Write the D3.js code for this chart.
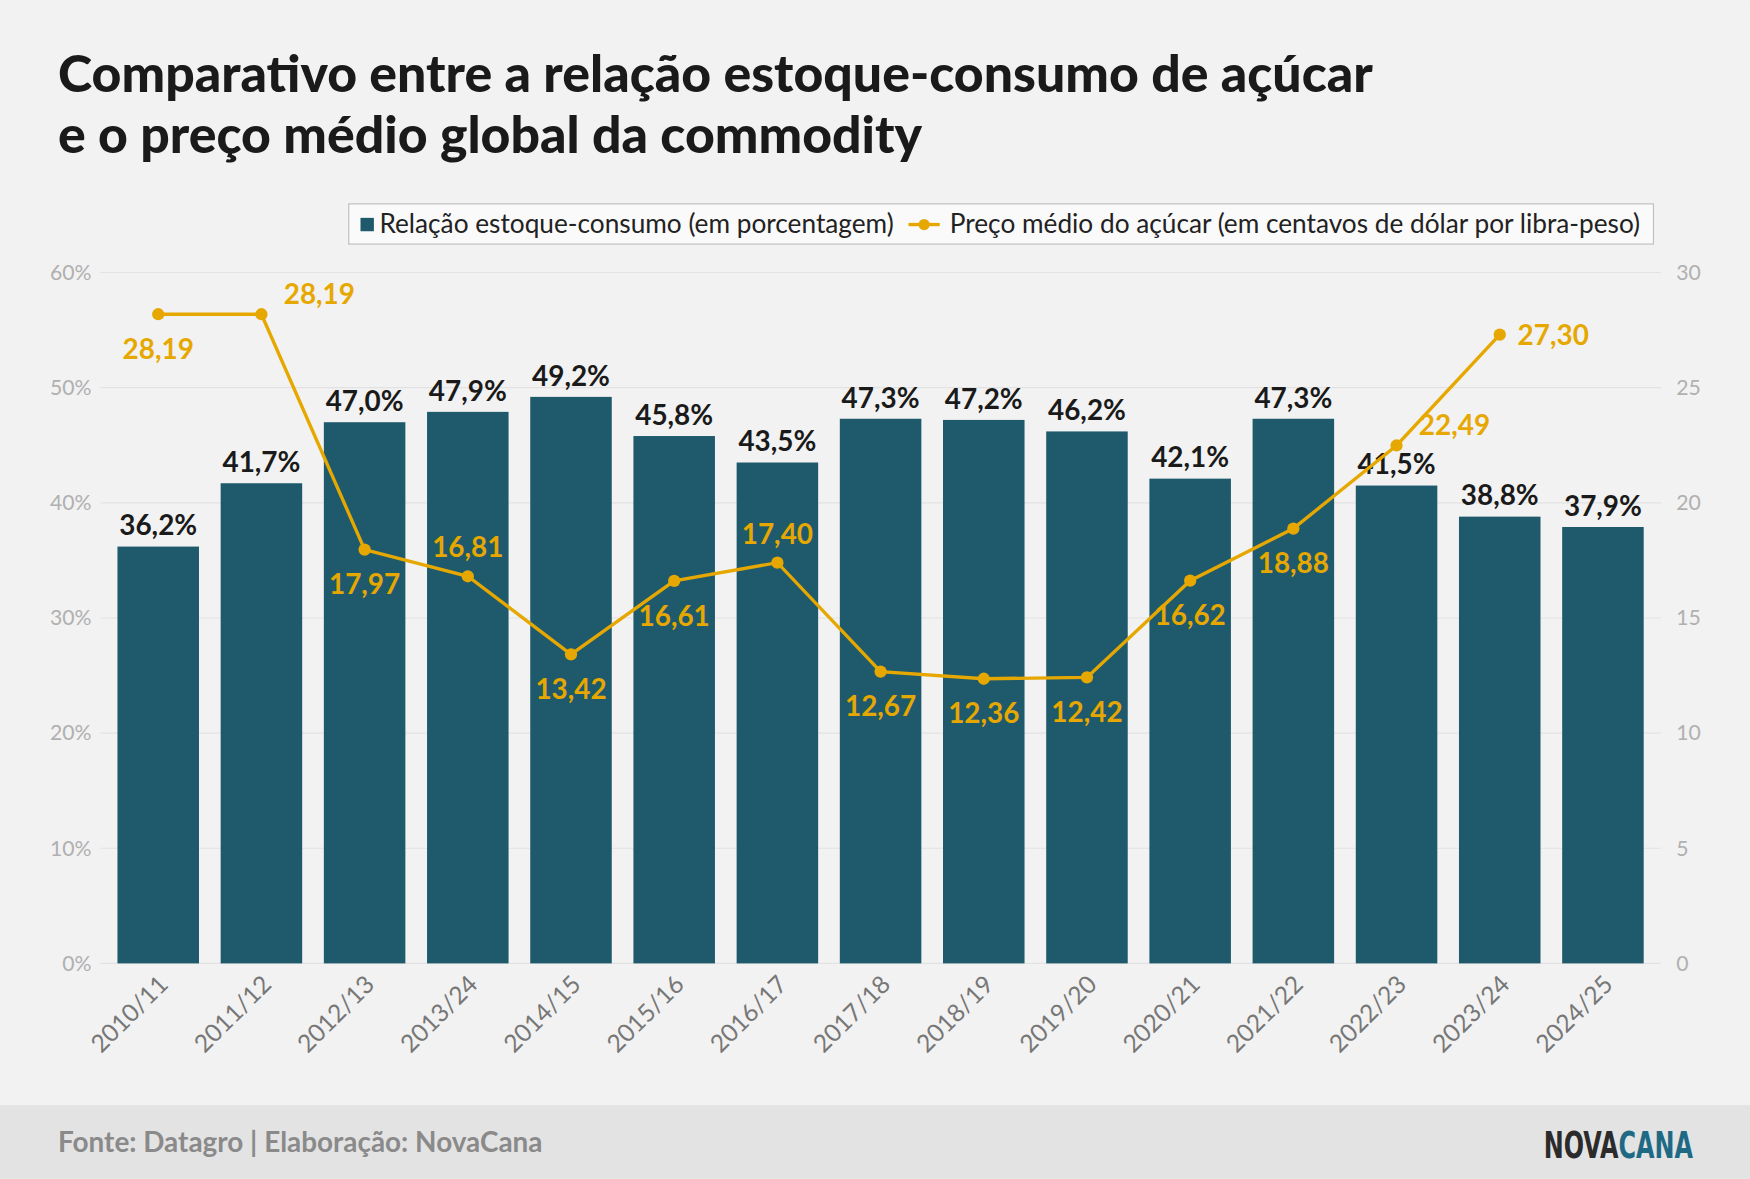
<!DOCTYPE html>
<html><head><meta charset="utf-8">
<script src="https://cdn.jsdelivr.net/npm/d3@7"></script>
<style>body{margin:0;background:#f2f2f2}svg{display:block;font-family:Lato,sans-serif}</style>
</head><body><svg id="c" width="1750" height="1179" viewBox="0 0 1568 1056"></svg>
<script>
const seasons = ["2010/11","2011/12","2012/13","2013/24","2014/15","2015/16","2016/17","2017/18","2018/19","2019/20","2020/21","2021/22","2022/23","2023/24","2024/25"];
const ratio = [36.2,41.7,47.0,47.9,49.2,45.8,43.5,47.3,47.2,46.2,42.1,47.3,41.5,38.8,37.9];
const price = [28.19,28.19,17.97,16.81,13.42,16.61,17.40,12.67,12.36,12.42,16.62,18.88,22.49,27.30];
const pctTicks = [0,10,20,30,40,50,60];
const priceTicks = [0,5,10,15,20,25,30];
// where each price label sits relative to its point
const priceLabelPos = ["below","aboveRight","below","above","below","below","above","below","below","below","below","below","aboveRight","right"];

const svg = d3.select("#c");
const teal = "#1e5a6c", gold = "#e6a800";
const x = d3.scaleBand().domain(seasons).range([96, 1482]).paddingInner(0.21).paddingOuter(0.1);
const y = d3.scaleLinear().domain([0, 60]).range([863, 244]);
const y2 = d3.scaleLinear().domain([0, 30]).range([863, 244]);

svg.append("rect").attr("width", 1568).attr("height", 1056).attr("fill", "#f2f2f2");
svg.append("rect").attr("y", 990).attr("width", 1568).attr("height", 66).attr("fill", "#e3e3e3");

svg.append("text").attr("x", 52).attr("y", 82).attr("font-size", 46.4).attr("font-weight", 900).attr("fill", "#1a1a1a")
  .text("Comparativo entre a relação estoque-consumo de açúcar");
svg.append("text").attr("x", 52).attr("y", 137).attr("font-size", 46.4).attr("font-weight", 900).attr("fill", "#1a1a1a")
  .text("e o preço médio global da commodity");

// grid
svg.append("g").selectAll("line").data(pctTicks).join("line")
  .attr("x1", 90).attr("x2", 1488).attr("y1", d => y(d)).attr("y2", d => y(d))
  .attr("stroke", "#e2e2e2");

svg.append("g").attr("transform", "translate(90,0)")
  .call(d3.axisLeft(y).tickValues(pctTicks).tickSize(0).tickPadding(8).tickFormat(d => d + "%"))
  .call(g => g.select(".domain").remove())
  .selectAll("text").attr("font-size", 19).attr("fill", "#b0b0b0").attr("font-family", "Lato");
svg.append("g").attr("transform", "translate(1494,0)")
  .call(d3.axisRight(y2).tickValues(priceTicks).tickSize(0).tickPadding(8))
  .call(g => g.select(".domain").remove())
  .selectAll("text").attr("font-size", 19).attr("fill", "#b0b0b0").attr("font-family", "Lato");

svg.append("g").attr("transform", "translate(0,863)")
  .call(d3.axisBottom(x).tickSize(0).tickPadding(10))
  .call(g => g.select(".domain").remove())
  .selectAll("text").attr("font-size", 22).attr("fill", "#777").attr("font-family", "Lato")
  .attr("text-anchor", "end").attr("transform", "translate(-8,2) rotate(-45)");

svg.append("g").selectAll("rect").data(ratio).join("rect")
  .attr("x", (d, i) => x(seasons[i])).attr("width", x.bandwidth())
  .attr("y", d => y(d)).attr("height", d => y(0) - y(d)).attr("fill", teal);

svg.append("g").selectAll("text").data(ratio).join("text")
  .attr("x", (d, i) => x(seasons[i]) + x.bandwidth() / 2).attr("y", d => y(d) - 10)
  .attr("text-anchor", "middle").attr("font-size", 25).attr("font-weight", 700).attr("fill", "#1a1a1a")
  .text(d => d.toFixed(1).replace(".", ",") + "%");

const px = (d, i) => x(seasons[i]) + x.bandwidth() / 2;
svg.append("path").datum(price)
  .attr("d", d3.line().x(px).y(d => y2(d)))
  .attr("fill", "none").attr("stroke", gold).attr("stroke-width", 3);
svg.append("g").selectAll("circle").data(price).join("circle")
  .attr("cx", px).attr("cy", d => y2(d)).attr("r", 5.5).attr("fill", gold);

const off = {below: [0, 40], above: [0, -17], aboveRight: [20, -9], right: [16, 9]};
svg.append("g").selectAll("text").data(price).join("text")
  .attr("x", (d, i) => px(d, i) + off[priceLabelPos[i]][0])
  .attr("y", (d, i) => y2(d) + off[priceLabelPos[i]][1])
  .attr("text-anchor", (d, i) => off[priceLabelPos[i]][0] ? "start" : "middle")
  .attr("font-size", 25).attr("font-weight", 700).attr("fill", gold)
  .text(d => d.toFixed(2).replace(".", ","));

// legend
const lg = svg.append("g");
lg.append("rect").attr("x", 312.5).attr("y", 182.5).attr("width", 1169).attr("height", 36)
  .attr("fill", "#fafafa").attr("stroke", "#bdbdbd");
lg.append("rect").attr("x", 323).attr("y", 195).attr("width", 12).attr("height", 12).attr("fill", teal);
lg.append("text").attr("x", 340).attr("y", 209).attr("font-size", 23.5).attr("fill", "#222")
  .text("Relação estoque-consumo (em porcentagem)");
lg.append("line").attr("x1", 814).attr("x2", 842).attr("y1", 201).attr("y2", 201).attr("stroke", gold).attr("stroke-width", 3);
lg.append("circle").attr("cx", 828).attr("cy", 201).attr("r", 5).attr("fill", gold);
lg.append("text").attr("x", 851).attr("y", 209).attr("font-size", 23.5).attr("fill", "#222")
  .text("Preço médio do açúcar (em centavos de dólar por libra-peso)");

svg.append("text").attr("x", 52).attr("y", 1032).attr("font-size", 25).attr("font-weight", 700).attr("fill", "#8a8a8a")
  .text("Fonte: Datagro | Elaboração: NovaCana");
const logo = svg.append("text").attr("text-anchor", "end")
  .attr("transform", "translate(1517,1037) scale(0.7,1)")
  .attr("font-family", "'Liberation Sans Narrow','DejaVu Sans Condensed',sans-serif")
  .attr("font-size", 34).attr("font-weight", 700);
logo.append("tspan").attr("fill", "#2b2b2b").text("NOVA");
logo.append("tspan").attr("fill", "#1e6a85").text("CANA");
</script></body></html>
